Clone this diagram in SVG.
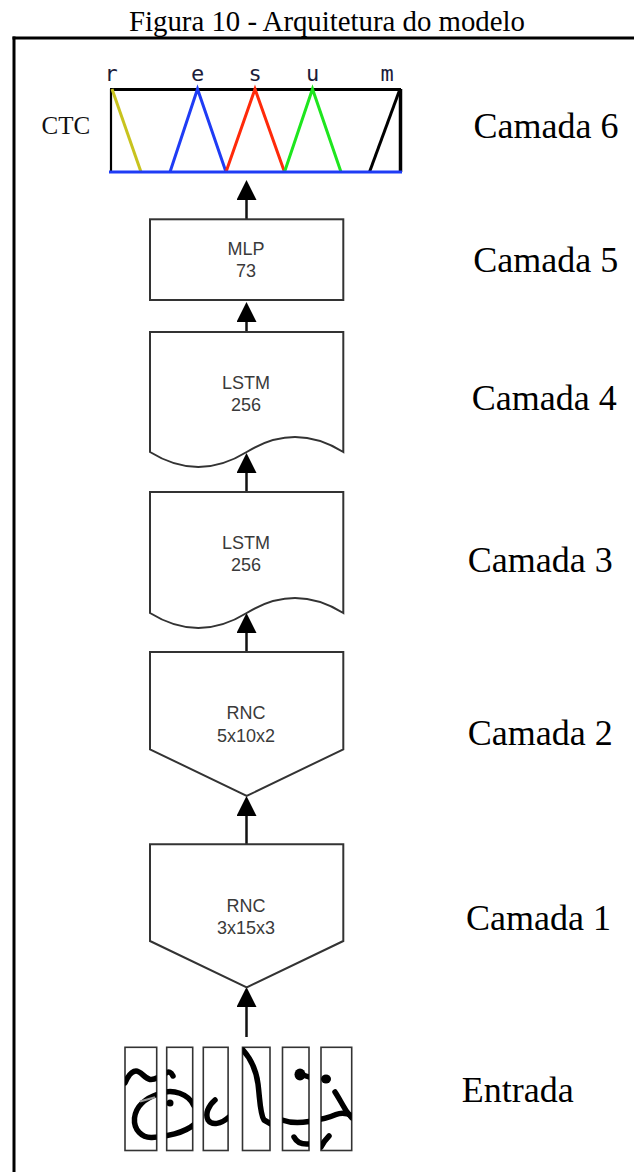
<svg xmlns="http://www.w3.org/2000/svg" width="634" height="1172" viewBox="0 0 634 1172">
<style>
.title{font-family:"Liberation Serif","Times New Roman",serif;font-size:28.8px;fill:#000}
.layer{font-family:"Liberation Serif","Times New Roman",serif;font-size:36px;fill:#000}
.lbl{font-family:"Liberation Sans",Arial,sans-serif;font-size:18px;fill:#3a3a3a;text-anchor:middle}
.box{fill:#fff;stroke:#333;stroke-width:2}
.conn{stroke:#111;stroke-width:2.5;fill:none}
.ltr{font-family:"DejaVu Sans Mono",monospace;font-size:22px;fill:#1c1c3a;text-anchor:middle}
.ink{fill:none;stroke:#000;stroke-width:5.5;stroke-linecap:round;stroke-linejoin:round}
.inrect{fill:#fff;stroke:#333;stroke-width:1.6}
</style>
<defs>
<marker id="ah" markerUnits="userSpaceOnUse" markerWidth="20" markerHeight="20" refX="10" refY="10" orient="auto">
<path d="M0,0 L20,10 L0,20 Z" fill="#000"/>
</marker>
<clipPath id="inclip">
<rect x="125" y="1047.3" width="31.7" height="103.2"/>
<rect x="166.7" y="1047.3" width="26" height="103.2"/>
<rect x="203.3" y="1047.3" width="24.8" height="103.2"/>
<rect x="242.5" y="1047.3" width="27.5" height="103.2"/>
<rect x="282.5" y="1047.3" width="26.5" height="103.2"/>
<rect x="321" y="1047.3" width="30.7" height="103.2"/>
</clipPath>
</defs>

<text class="title" x="129" y="31">Figura 10 - Arquitetura do modelo</text>
<g id="frame">
<line x1="12.5" y1="38" x2="634" y2="38" stroke="#000" stroke-width="3"/>
<line x1="14" y1="36.5" x2="14" y2="1172" stroke="#000" stroke-width="3"/>
</g>

<g id="connectors">
<path class="conn" d="M246.5,219 L246.5,190" marker-end="url(#ah)"/>
<path class="conn" d="M246.5,332 L246.5,312" marker-end="url(#ah)"/>
<path class="conn" d="M246.5,492 L246.5,463" marker-end="url(#ah)"/>
<path class="conn" d="M246.5,652 L246.5,623" marker-end="url(#ah)"/>
<path class="conn" d="M246.5,844 L246.5,806" marker-end="url(#ah)"/>
<path class="conn" d="M246.5,1037 L246.5,997" marker-end="url(#ah)"/>
</g>

<g id="ctc">
<text class="ltr" x="111" y="81">r</text>
<text class="ltr" x="197.5" y="81">e</text>
<text class="ltr" x="255" y="81">s</text>
<text class="ltr" x="312.5" y="81">u</text>
<text class="ltr" x="387" y="81">m</text>
<text x="41.5" y="133.5" style="font-family:'Liberation Serif','Times New Roman',serif;font-size:25px;fill:#111">CTC</text>
<line x1="110" y1="89.5" x2="401" y2="89.5" stroke="#000" stroke-width="3"/>
<line x1="111" y1="89" x2="111" y2="172" stroke="#000" stroke-width="2.2"/>
<line x1="400.5" y1="89" x2="400.5" y2="172" stroke="#000" stroke-width="3.5"/>
<polyline points="112,89 141,172" fill="none" stroke="#c8c31e" stroke-width="3"/>
<polyline points="170,172 197.5,89 226,172" fill="none" stroke="#1f3cf5" stroke-width="3"/>
<polyline points="226,172 255,89 284.5,172" fill="none" stroke="#ff2a0a" stroke-width="3"/>
<polyline points="284.5,172 312.5,89 341,172" fill="none" stroke="#1ee61e" stroke-width="3"/>
<polyline points="369.5,172 400,89" fill="none" stroke="#000" stroke-width="3"/>
<line x1="109" y1="172" x2="402" y2="172" stroke="#1f3cf5" stroke-width="3"/>
</g>
<text class="layer" x="473.5" y="138">Camada 6</text>

<g id="mlp">
<rect class="box" x="150" y="219.3" width="193.3" height="80.7"/>
<text class="lbl" x="246" y="255">MLP</text>
<text class="lbl" x="246" y="277">73</text>
</g>
<text class="layer" x="473.3" y="272">Camada 5</text>

<g id="lstm4">
<path class="box" d="M150,332 L343.3,332 L343.3,452 Q295,422 246.7,452 Q198.3,482 150,452 Z"/>
<text class="lbl" x="246" y="388.5">LSTM</text>
<text class="lbl" x="246" y="410.5">256</text>
</g>
<text class="layer" x="471.7" y="410">Camada 4</text>

<g id="lstm3">
<path class="box" d="M150,492 L343.3,492 L343.3,613 Q295,583 246.7,613 Q198.3,643 150,613 Z"/>
<text class="lbl" x="246" y="548.5">LSTM</text>
<text class="lbl" x="246" y="570.7">256</text>
</g>
<text class="layer" x="467.7" y="571.7">Camada 3</text>

<g id="rnc2">
<path class="box" d="M150,652 L343.3,652 L343.3,749.3 L246.7,796 L150,749.3 Z"/>
<text class="lbl" x="246" y="719.3">RNC</text>
<text class="lbl" x="246" y="741.7">5x10x2</text>
</g>
<text class="layer" x="467.7" y="745">Camada 2</text>

<g id="rnc1">
<path class="box" d="M150,844.3 L343.3,844.3 L343.3,941 L246.7,987.3 L150,941 Z"/>
<text class="lbl" x="246" y="911.7">RNC</text>
<text class="lbl" x="246" y="934.3">3x15x3</text>
</g>
<text class="layer" x="466" y="930">Camada 1</text>

<g id="entrada">
<rect class="inrect" x="125" y="1047.3" width="31.7" height="103.2"/>
<rect class="inrect" x="166.7" y="1047.3" width="26" height="103.2"/>
<rect class="inrect" x="203.3" y="1047.3" width="24.8" height="103.2"/>
<rect class="inrect" x="242.5" y="1047.3" width="27.5" height="103.2"/>
<rect class="inrect" x="282.5" y="1047.3" width="26.5" height="103.2"/>
<rect class="inrect" x="321" y="1047.3" width="30.7" height="103.2"/>
<g clip-path="url(#inclip)">
<path class="ink" d="M125,1083 C128,1076 131,1071 136,1071 C141,1071 144,1078 150,1079.5 C153,1080 155,1079 158,1077.5"/>
<path class="ink" d="M166,1073 Q170,1070 173,1076"/>
<path class="ink" d="M194,1106 C189,1094 173,1088 158,1094 C146,1098 136,1106 134.5,1118 C133.5,1130 142,1138 152,1137.5 C166,1137 184,1133 195,1124"/>
<path d="M140,1101.5 L155,1097.3" stroke="#999" stroke-width="2" fill="none"/>
<circle cx="170" cy="1103" r="3.5" fill="#000"/>
<path class="ink" d="M215,1100 C208,1106 205,1114 208,1120 C212,1126 221,1124 229,1117"/>
<path class="ink" d="M243,1050 C251,1059 256,1069 258,1084 C260,1100 260,1114 264,1120 L271,1124"/>
<ellipse cx="300" cy="1074.5" rx="5.5" ry="6" fill="#000"/>
<path class="ink" d="M300,1074 L309,1077"/>
<path class="ink" d="M282,1120 C290,1123 300,1123 309,1121.5 C318,1120 328,1118 336,1114.5 C342,1112 347,1113 352,1116"/>
<path class="ink" d="M294,1137 Q298,1145 309,1144"/>
<ellipse cx="326" cy="1079" rx="5" ry="4.5" fill="#000"/>
<path class="ink" d="M335,1092 C339,1098 343,1106 347,1112 L352,1118" stroke-width="6.5"/>
<path class="ink" d="M329,1136 C326,1139 323,1143 321,1147"/>
</g>
</g>
<text class="layer" x="461.7" y="1101.7">Entrada</text>
</svg>
